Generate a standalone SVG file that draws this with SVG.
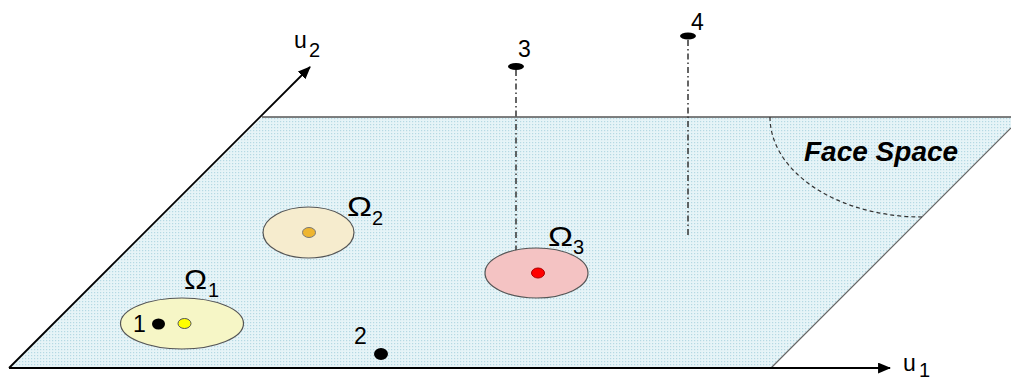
<svg xmlns="http://www.w3.org/2000/svg" width="1011" height="380" viewBox="0 0 1011 380">
<defs>
<pattern id="dots" width="3" height="3" patternUnits="userSpaceOnUse">
<rect width="3" height="3" fill="#e6f4f7"/>
<rect x="1" y="1" width="1.2" height="1.2" fill="#b5d9e3"/>
</pattern>
<marker id="arr" viewBox="0 0 12 10" refX="11" refY="5" markerWidth="13" markerHeight="11" markerUnits="userSpaceOnUse" orient="auto">
<path d="M0,0 L12,5 L0,10 Z" fill="#000"/>
</marker>
<style>
.lbl{font-family:"Liberation Sans",Arial,sans-serif;font-size:23px;fill:#000}
.sub{font-family:"Liberation Sans",Arial,sans-serif;font-size:20px;fill:#000}
.om{font-family:"Liberation Sans",Arial,sans-serif;font-size:28px;fill:#000}
.dd{stroke:#333;stroke-width:1.5;fill:none;stroke-dasharray:6,3,1.5,3}
.clus{stroke:#555;stroke-width:1.2}
.pt{fill:#000}
</style>
</defs>
<g id="plane">
<path d="M262,117 L1011,117 L1011,128 L771,368 L9,368 Z" fill="url(#dots)"/>
<path d="M262,117 L1011,117" stroke="#555" stroke-width="1.5" fill="none"/>
<path d="M1011,128 L771,368" stroke="#666" stroke-width="1.2" fill="none"/>
<path d="M770,117 A152,100 0 0 0 922,217" stroke="#333" stroke-width="1.2" stroke-dasharray="4,3" fill="none"/>
<text x="804" y="161" font-family="Liberation Sans, Arial, sans-serif" font-size="28" font-weight="bold" font-style="italic" fill="#000">Face Space</text>
</g>
<g id="axes">
<line x1="9" y1="368" x2="890" y2="368" stroke="#000" stroke-width="2.2" marker-end="url(#arr)"/>
<line x1="9" y1="368" x2="310" y2="67" stroke="#000" stroke-width="1.8" marker-end="url(#arr)"/>
<text class="lbl" x="903" y="371">u</text><text class="sub" x="919" y="377">1</text>
<text class="lbl" x="294" y="48">u</text><text class="sub" x="309" y="57">2</text>
</g>
<g id="connectors">
<line class="dd" x1="516" y1="70" x2="516" y2="270"/>
<line class="dd" x1="688" y1="40" x2="688" y2="238"/>
</g>
<g id="omega1">
<ellipse class="clus" cx="182" cy="323.5" rx="61.5" ry="25.5" fill="#f6f6c6"/>
<ellipse cx="184.5" cy="323.5" rx="6.5" ry="5" fill="#ffff00" stroke="#555" stroke-width="1"/>
<text class="om" x="184" y="289" textLength="23" lengthAdjust="spacingAndGlyphs">Ω</text><text class="sub" x="208" y="297">1</text>
</g>
<g id="point1">
<ellipse class="pt" cx="158.5" cy="324" rx="6.5" ry="5.5"/>
<text class="lbl" x="133" y="332">1</text>
</g>
<g id="omega2">
<ellipse class="clus" cx="308.5" cy="232.5" rx="45.5" ry="25.5" fill="#f6ecce"/>
<ellipse cx="309" cy="232.5" rx="6.5" ry="5" fill="#eeb530" stroke="#777" stroke-width="1"/>
<text class="om" x="347" y="216" textLength="25" lengthAdjust="spacingAndGlyphs">Ω</text><text class="sub" x="372" y="225">2</text>
</g>
<g id="omega3">
<ellipse class="clus" cx="536.5" cy="273" rx="51.5" ry="25" fill="#f4c3c3"/>
<ellipse cx="538" cy="273" rx="6.5" ry="5" fill="#ff0000" stroke="#a00" stroke-width="1"/>
<text class="om" x="548" y="246" textLength="25" lengthAdjust="spacingAndGlyphs">Ω</text><text class="sub" x="573" y="254">3</text>
</g>
<g id="point2">
<ellipse class="pt" cx="381" cy="354" rx="7" ry="6"/>
<text class="lbl" x="354" y="344">2</text>
</g>
<g id="point3">
<ellipse class="pt" cx="516" cy="66.5" rx="8" ry="3.5"/>
<text class="lbl" x="518" y="57">3</text>
</g>
<g id="point4">
<ellipse class="pt" cx="688" cy="36" rx="8" ry="3.5"/>
<text class="lbl" x="691" y="30">4</text>
</g>
</svg>
